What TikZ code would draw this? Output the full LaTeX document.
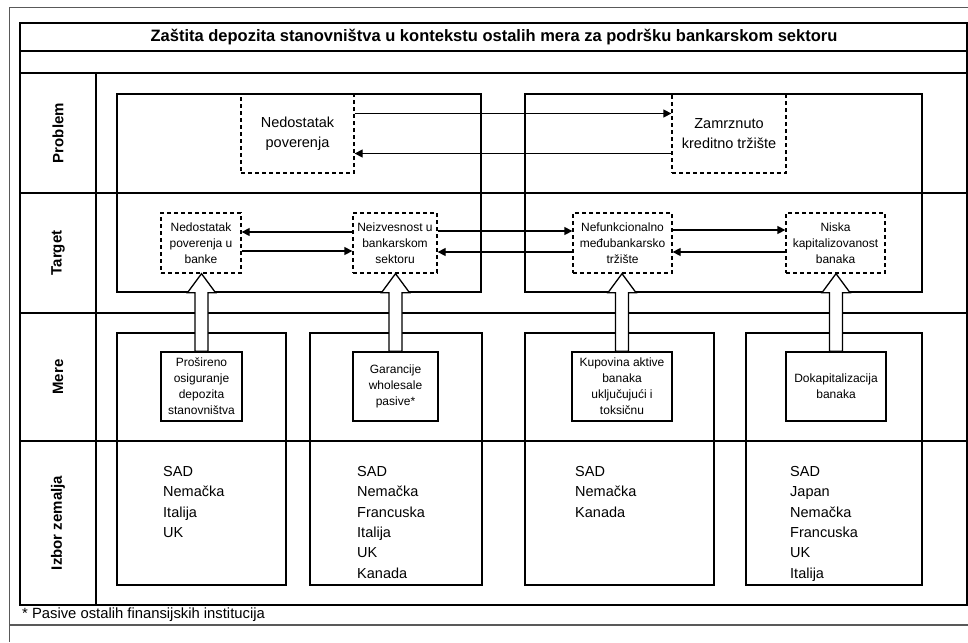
\documentclass[tikz,border=0pt]{standalone}
\usepackage{fontspec}
\setmainfont{Liberation Sans}
\usetikzlibrary{arrows.meta, positioning, calc}

% hollow block arrow from a measure box up to its target box
\newcommand{\blockarrow}[2]{%
  \draw[line width=1.3pt, fill=white] let \p1=(#1.north), \p2=(#2.south) in
    (\x1-6.5pt,\y1) -- (\x1-6.5pt,\y2-19pt) -- (\x1-14pt,\y2-19pt) -- (\x1,\y2)
    -- (\x1+14pt,\y2-19pt) -- (\x1+6.5pt,\y2-19pt) -- (\x1+6.5pt,\y1) -- cycle;}

\begin{document}
\begin{tikzpicture}[x=1pt, y=-1pt,
    rule/.style={line width=1.4pt},
    frame/.style={line width=2.2pt},
    goal/.style={draw, dash pattern=on 4pt off 3pt, line width=1.3pt, inner sep=0pt, align=center},
    measure/.style={draw, line width=1.5pt, fill=white, inner sep=0pt, align=center, minimum height=69pt, font=\fontsize{12}{16}\selectfont},
    rowlabel/.style={rotate=90, font=\fontsize{15}{18}\selectfont\bfseries},
    countries/.style={anchor=north west, align=left, inner sep=0pt, font=\fontsize{14.5}{20.4}\selectfont},
    link/.style={line width=1.3pt, -{Triangle[length=8pt, width=8pt]}}]
  \useasboundingbox (0,0) rectangle (968,642);

  % Page frame
  \draw[black!65, line width=1pt] (968,8) -- (9,8) -- (9,642);
  \draw[black!65, line width=1.5pt] (9,625) -- (968,625);

  % Table
  \draw[frame] (20,23) rectangle (967,605);
  \foreach \y in {51,73,193,313,441}
    \draw[rule] (20,\y) -- (967,\y);
  \draw[rule] (96,73) -- (96,605);
  \node[font=\fontsize{16.5}{18}\selectfont\bfseries] (title) at (494,37)
    {Zaštita depozita stanovništva u kontekstu ostalih mera za podršku bankarskom sektoru};

  % Row labels
  \node[rowlabel] (lprob) at (58,133) {Problem};
  \node[rowlabel] (ltarget) at (58,253) {Target};
  \node[rowlabel] (lmere) at (58,377) {Mere};
  \node[rowlabel] (lizbor) at (58,523) {Izbor zemalja};

  % Problem / Target frames
  \draw[rule] (117,94) rectangle (481,292);
  \draw[rule] (525,94) rectangle (922,292);

  % Mere / Izbor columns
  \foreach \l/\r in {117/286, 310/482, 525/714, 746/922}
    \draw[rule] (\l,333) rectangle (\r,585);

  % Problems
  \node[goal, minimum width=113pt, minimum height=79pt, font=\fontsize{14.5}{20}\selectfont] (pA) at (297.5,133.5) {Nedostatak\\poverenja};
  \node[goal, minimum width=114pt, minimum height=79pt, font=\fontsize{14.5}{20}\selectfont] (pB) at (729,133.5) {Zamrznuto\\kreditno tržište};
  \draw[link] ($(pA.east)+(0,-20)$) -- ($(pB.west)+(0,-20)$);
  \draw[link] ($(pB.west)+(0,20)$) -- ($(pA.east)+(0,20)$);

  % Targets
  \node[goal, minimum width=80pt, minimum height=60pt, font=\fontsize{12}{16}\selectfont] (tA) at (201,243) {Nedostatak\\poverenja u\\banke};
  \node[goal, minimum width=84pt, minimum height=60pt, font=\fontsize{12}{16}\selectfont] (tB) at (395,243) {Neizvesnost u\\bankarskom\\sektoru};
  \node[goal, minimum width=99pt, minimum height=60pt, font=\fontsize{12}{16}\selectfont] (tC) at (622.5,243) {Nefunkcionalno\\međubankarsko\\tržište};
  \node[goal, minimum width=99pt, minimum height=60pt, font=\fontsize{12}{16}\selectfont] (tD) at (835.5,243) {Niska\\kapitalizovanost\\banaka};
  \draw[link] ($(tB.west)+(0,-11)$) -- ($(tA.east)+(0,-11)$);
  \draw[link] ($(tA.east)+(0,8)$) -- ($(tB.west)+(0,8)$);
  \draw[link] ($(tB.east)+(0,-12)$) -- ($(tC.west)+(0,-12)$);
  \draw[link] ($(tC.west)+(0,9)$) -- ($(tB.east)+(0,9)$);
  \draw[link] ($(tC.east)+(0,-13)$) -- ($(tD.west)+(0,-13)$);
  \draw[link] ($(tD.west)+(0,9)$) -- ($(tC.east)+(0,9)$);

  % Measures
  \node[measure, minimum width=81pt] (mA) at (201.5,386.5) {Prošireno\\osiguranje\\depozita\\stanovništva};
  \node[measure, minimum width=85pt] (mB) at (395.5,386.5) {Garancije\\wholesale\\pasive*};
  \node[measure, minimum width=100pt] (mC) at (622,386.5) {Kupovina aktive\\banaka\\uključujući i\\toksičnu};
  \node[measure, minimum width=100pt] (mD) at (836,386.5) {Dokapitalizacija\\banaka};
  \blockarrow{mA}{tA}
  \blockarrow{mB}{tB}
  \blockarrow{mC}{tC}
  \blockarrow{mD}{tD}

  % Countries
  \node[countries] (cA) at (163,466) {SAD\\Nemačka\\Italija\\UK};
  \node[countries] (cB) at (357,466) {SAD\\Nemačka\\Francuska\\Italija\\UK\\Kanada};
  \node[countries] (cC) at (575,466) {SAD\\Nemačka\\Kanada};
  \node[countries] (cD) at (790,466) {SAD\\Japan\\Nemačka\\Francuska\\UK\\Italija};

  % Footnote
  \node[anchor=west, inner sep=0pt, font=\fontsize{14.8}{16}\selectfont] (note) at (22,615) {* Pasive ostalih finansijskih institucija};
\end{tikzpicture}
\end{document}
